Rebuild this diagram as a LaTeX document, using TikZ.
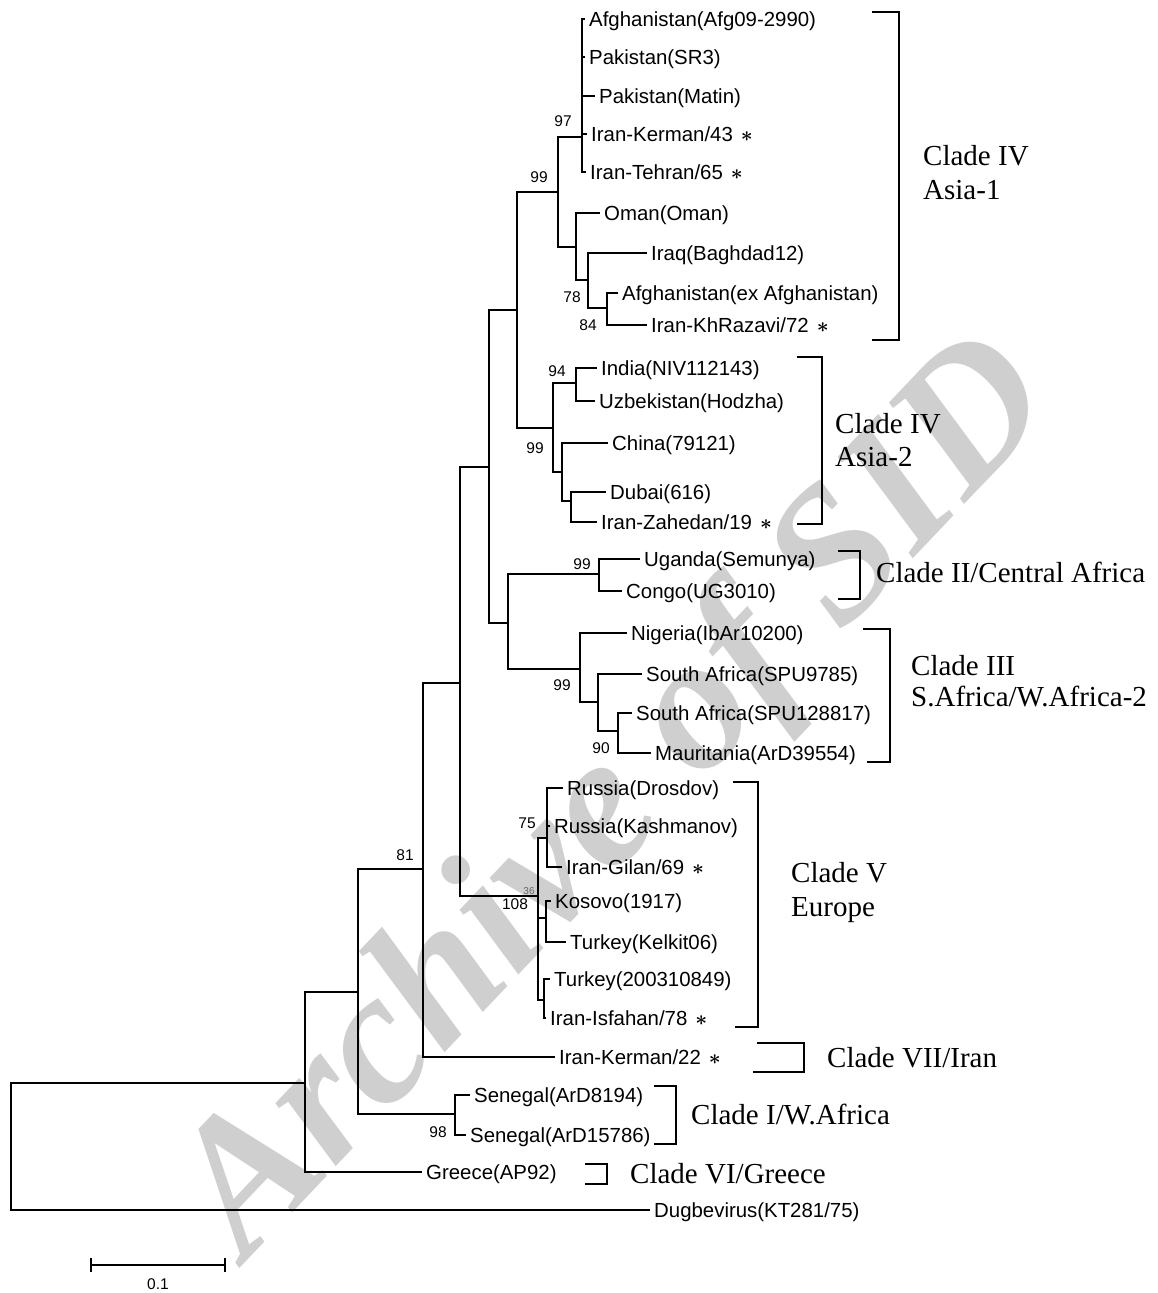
\documentclass[tikz,border=0pt]{standalone}
\usepackage{fontspec}
\setmainfont{Liberation Serif}
\setsansfont{Liberation Sans}
\usetikzlibrary{positioning}

\tikzset{
  leaf/.style={anchor=west, inner xsep=4pt, inner ysep=2pt, text height=14.5pt, text depth=0pt, font=\sffamily\fontsize{20.4}{24}\selectfont},
  boot/.style={inner sep=0pt, font=\sffamily\fontsize{15.5}{18}\selectfont},
  clade/.style={anchor=base west, inner sep=0pt, font=\fontsize{29}{35}\selectfont},
  branch/.style={line width=1.2pt},
  fat/.style={line width=2.6pt},
  mark label/.style={text=black!19, anchor=base west, inner sep=0pt, font=\fontsize{190}{190}\selectfont\bfseries\itshape},
}
\newcommand{\iso}{\hspace{8pt}{\boldmath$\ast$}}

\begin{document}
\begin{tikzpicture}[x=1pt,y=-1pt]
\useasboundingbox (0,0) rectangle (1158,1293);

\node[mark label, rotate=46.5] (wm) at (246,1262) {Archive of SID};

\node[leaf] (afg1) at (585,19) {Afghanistan(Afg09-2990)};
\node[leaf] (pak1) at (585,57) {Pakistan(SR3)};
\node[leaf] (pak2) at (595,96) {Pakistan(Matin)};
\node[leaf] (ker43) at (587,134) {Iran-Kerman/43\iso};
\node[leaf] (teh65) at (586,172) {Iran-Tehran/65\iso};
\node[leaf] (oman) at (600,213) {Oman(Oman)};
\node[leaf] (iraq) at (647,253) {Iraq(Baghdad12)};
\node[leaf] (afg2) at (618,293) {Afghanistan(ex Afghanistan)};
\node[leaf] (khr72) at (647,325) {Iran-KhRazavi/72\iso};
\node[leaf] (india) at (597,368) {India(NIV112143)};
\node[leaf] (uzb) at (595,401) {Uzbekistan(Hodzha)};
\node[leaf] (china) at (608,443) {China(79121)};
\node[leaf] (dubai) at (606,492) {Dubai(616)};
\node[leaf] (zah19) at (597,522) {Iran-Zahedan/19\iso};
\node[leaf] (uga) at (640,559) {Uganda(Semunya)};
\node[leaf] (congo) at (622,591) {Congo(UG3010)};
\node[leaf] (nig) at (627,633) {Nigeria(IbAr10200)};
\node[leaf] (sa1) at (642,674) {South Africa(SPU9785)};
\node[leaf] (sa2) at (632,713) {South Africa(SPU128817)};
\node[leaf] (maur) at (651,753) {Mauritania(ArD39554)};
\node[leaf] (rus1) at (563,788) {Russia(Drosdov)};
\node[leaf] (rus2) at (550,826) {Russia(Kashmanov)};
\node[leaf] (gil69) at (562,867) {Iran-Gilan/69\iso};
\node[leaf] (kos) at (551,901) {Kosovo(1917)};
\node[leaf] (kel) at (566,942) {Turkey(Kelkit06)};
\node[leaf] (tur2) at (550,979) {Turkey(200310849)};
\node[leaf] (isf78) at (546,1018) {Iran-Isfahan/78\iso};
\node[leaf] (ker22) at (555,1057) {Iran-Kerman/22\iso};
\node[leaf] (sen1) at (470,1095) {Senegal(ArD8194)};
\node[leaf] (sen2) at (466,1135) {Senegal(ArD15786)};
\node[leaf] (gre) at (422,1172) {Greece(AP92)};
\node[leaf] (dug) at (650,1210) {Dugbevirus(KT281/75)};

\coordinate (n97) at (582,137);
\coordinate (nA1) at (558,192);
\coordinate (nOm) at (576,247);
\coordinate (n78) at (588,280);
\coordinate (n84) at (607,308);
\coordinate (nAs) at (517,310);
\coordinate (nA2) at (553,428);
\coordinate (n94) at (576,383);
\coordinate (nCh) at (562,472);
\coordinate (nDu) at (571,501);
\coordinate (nAf) at (489,467);
\coordinate (nCA) at (508,623);
\coordinate (nII) at (599,574);
\coordinate (nIII) at (580,669);
\coordinate (nSA) at (598,702);
\coordinate (n90) at (618,731);
\coordinate (nIn) at (460,683);
\coordinate (nEu) at (538,896);
\coordinate (n75) at (547,838);
\coordinate (nKo) at (546,918);
\coordinate (nTu) at (544,1000);
\coordinate (n81) at (423,869);
\coordinate (nSe) at (358,992);
\coordinate (n98) at (455,1114);
\coordinate (nGr) at (305,1083);
\coordinate (root) at (11,1146);

\begin{scope}[branch]
\foreach \c in {afg1,pak1,pak2,ker43,teh65} \draw (n97) |- (\c.west);
\draw (nA1) |- (n97); \draw (nA1) |- (nOm);
\draw (nOm) |- (oman.west); \draw (nOm) |- (n78);
\draw (n78) |- (iraq.west); \draw (n78) |- (n84);
\draw (n84) |- (afg2.west); \draw (n84) |- (khr72.west);
\draw (nAs) |- (nA1); \draw (nAs) |- (nA2);
\draw (nA2) |- (n94); \draw (nA2) |- (nCh);
\draw (n94) |- (india.west); \draw (n94) |- (uzb.west);
\draw (nCh) |- (china.west); \draw (nCh) |- (nDu);
\draw (nDu) |- (dubai.west); \draw (nDu) |- (zah19.west);
\draw (nAf) |- (nAs); \draw (nAf) |- (nCA);
\draw (nCA) |- (nII); \draw (nCA) |- (nIII);
\draw (nII) |- (uga.west); \draw (nII) |- (congo.west);
\draw (nIII) |- (nig.west); \draw (nIII) |- (nSA);
\draw (nSA) |- (sa1.west); \draw (nSA) |- (n90);
\draw (n90) |- (sa2.west); \draw (n90) |- (maur.west);
\draw (nIn) |- (nAf); \draw (nIn) |- (nEu);
\foreach \c in {n75,nKo,nTu} \draw (nEu) |- (\c);
\foreach \c in {rus1,rus2,gil69} \draw (n75) |- (\c.west);
\draw (nKo) |- (kos.west); \draw (nKo) |- (kel.west);
\draw (nTu) |- (tur2.west); \draw (nTu) |- (isf78.west);
\draw (n81) |- (nIn); \draw (n81) |- (ker22.west);
\draw (nSe) |- (n81); \draw (nSe) |- (n98);
\draw (n98) |- (sen1.west); \draw (n98) |- (sen2.west);
\draw (nGr) |- (nSe); \draw (nGr) |- (gre.west);
\draw (root) |- (nGr); \draw (root) |- (dug.west);
\end{scope}
\draw[fat] (582,57) -- (582,134);
\draw[fat] (547,808) -- (547,828);
\draw[fat] (538,923) -- (538,960);

\node[boot] (b97) at (563,121) {97};
\node[boot] (b99a) at (539,177) {99};
\node[boot] (b78) at (572,297) {78};
\node[boot] (b84) at (588,325) {84};
\node[boot] (b94) at (557,371) {94};
\node[boot] (b99b) at (535,448) {99};
\node[boot] (b99c) at (582,564) {99};
\node[boot] (b99d) at (562,685) {99};
\node[boot] (b90) at (601,748) {90};
\node[boot] (b75) at (527,823) {75};
\node[boot] (b108) at (515,904) {108};
\node[boot, font=\sffamily\fontsize{10}{12}\selectfont, text=black!60] (b36) at (529,891) {36};
\node[boot] (b81) at (405,855) {81};
\node[boot] (b98) at (438,1132) {98};

\begin{scope}[branch]
\draw (872,12) -| (899,340) -- (872,340);
\draw (797,357) -| (822,524) -- (797,524);
\draw (838,551) -| (860,599) -- (838,599);
\draw (863,629) -| (890,762) -- (867,762);
\draw (733,782) -| (758,1027) -- (735,1027);
\draw (757,1043) -| (804,1072) -- (753,1072);
\draw (654,1086) -| (676,1144) -- (654,1144);
\draw (585,1164) -| (607,1184) -- (585,1184);
\end{scope}

\node[clade] (c4a) at (923,165) {Clade IV};
\node[clade] (c4b) at (923,199) {Asia-1};
\node[clade] (c4c) at (835,433) {Clade IV};
\node[clade] (c4d) at (835,466) {Asia-2};
\node[clade] (c2) at (876,582) {Clade II/Central Africa};
\node[clade] (c3a) at (911,675) {Clade III};
\node[clade] (c3b) at (911,706) {S.Africa/W.Africa-2};
\node[clade] (c5a) at (791,882) {Clade V};
\node[clade] (c5b) at (791,916) {Europe};
\node[clade] (c7) at (827,1067) {Clade VII/Iran};
\node[clade] (c1) at (691,1124) {Clade I/W.Africa};
\node[clade] (c6) at (630,1183) {Clade VI/Greece};

\coordinate (sb1) at (91,1265);
\coordinate (sb2) at (225,1265);
\draw[branch] (sb1) -- (sb2);
\draw[branch] ([yshift=7pt]sb1) -- ([yshift=-7pt]sb1);
\draw[branch] ([yshift=7pt]sb2) -- ([yshift=-7pt]sb2);
\node[boot] (sbl) at (158,1284) {0.1};
\end{tikzpicture}
\end{document}
